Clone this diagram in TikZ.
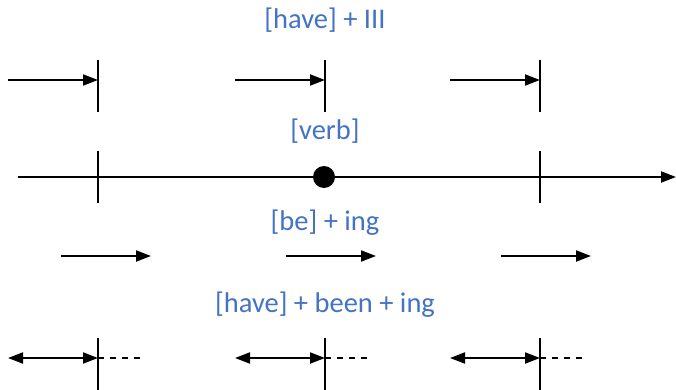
\documentclass[tikz,border=0pt]{standalone}
\usepackage{fontspec}
\setmainfont{Carlito}
\usetikzlibrary{arrows.meta}
\definecolor{labelblue}{HTML}{4472C4}

\begin{document}
\begin{tikzpicture}[x=1pt,y=-1pt,
		line/.style={line width=2pt},
		arr/.style={line, -{Triangle[length=15pt,width=11pt]}},
		darr/.style={line, {Triangle[length=15pt,width=11pt]}-{Triangle[length=15pt,width=11pt]}},
		tickline/.style={line width=2pt},
		dashline/.style={line width=2pt, dash pattern=on 6pt off 6pt},
		lbl/.style={text=labelblue, font=\fontsize{28.5}{32}\selectfont}]
		\useasboundingbox (0,0) rectangle (676,390);
	
		%%% LABELS
		\node[lbl] (perfect) at (325,20) {[have] + III};
		\node[lbl] (verb) at (325,131) {[verb]};
		\node[lbl] (cont) at (325,223) {[be] + ing};
		\node[lbl] (perfcont) at (325,305) {[have] + been + ing};
		
		%%% TIME LINE
		\coordinate (t0) at (18,177);
		\coordinate (t1) at (676,177);
		\draw[arr] (t0) -- (t1);
		\foreach \x/\n in {98/a,540/b} {
			\coordinate (tu\n) at (\x,151);
			\coordinate (td\n) at (\x,203);
			\draw[tickline] (tu\n) -- (td\n);
		}
		\fill (324,177) circle (11pt) coordinate (now);
		
		%%% [have] + III
		\foreach \x/\n in {98/a,325/b,540/c} {
			\coordinate (ps\n) at (\x-90,80);
			\coordinate (pe\n) at (\x,80);
			\coordinate (pu\n) at (\x,60);
			\coordinate (pd\n) at (\x,112);
			\draw[arr] (ps\n) -- (pe\n);
			\draw[tickline] (pu\n) -- (pd\n);
		}
		
		%%% [be] + ing
		\foreach \x/\n in {61/a,286/b,501/c} {
			\coordinate (cs\n) at (\x,256);
			\coordinate (ce\n) at (\x+90,256);
			\draw[arr] (cs\n) -- (ce\n);
		}
		
		%%% [have] + been + ing
		\foreach \x/\n in {98/a,325/b,540/c} {
			\coordinate (ds\n) at (\x-90,358);
			\coordinate (de\n) at (\x,358);
			\coordinate (dx\n) at (\x+46,358);
			\coordinate (du\n) at (\x,338);
			\coordinate (dd\n) at (\x,390);
			\draw[darr] (ds\n) -- (de\n);
			\draw[dashline] (de\n) -- (dx\n);
			\draw[tickline] (du\n) -- (dd\n);
		}
	\end{tikzpicture}
\end{document}
